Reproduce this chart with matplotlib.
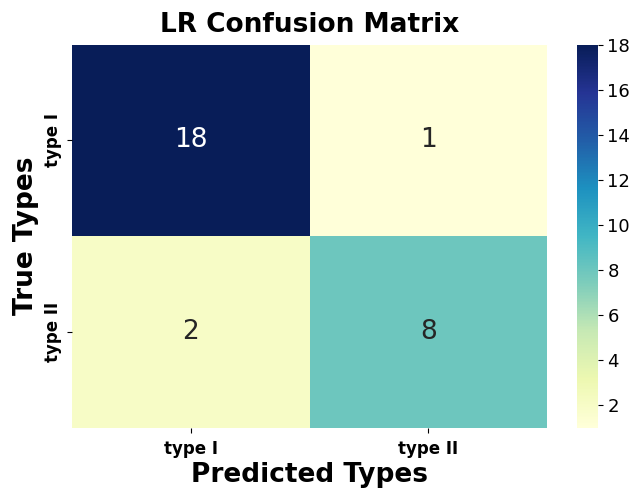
import matplotlib
matplotlib.use("Agg")
import matplotlib.pyplot as plt
import seaborn as sns
import numpy as np

labels = ["type I", "type II"]
cm = np.array([[18, 1], [2, 8]])

fig = plt.figure(figsize=(6.33, 4.9), dpi=100)
ax = fig.add_axes([0.114, 0.127, 0.75, 0.782])
cax = fig.add_axes([0.912, 0.127, 0.032, 0.782])
sns.heatmap(cm, annot=True, fmt="d", cmap="YlGnBu", vmin=1, vmax=18,
            xticklabels=labels, yticklabels=labels, ax=ax, cbar_ax=cax,
            annot_kws={"size": 19})
ax.set_title("LR Confusion Matrix", fontsize=19, fontweight="bold", pad=9)
ax.set_xlabel("Predicted Types", fontsize=19, fontweight="bold", labelpad=3)
ax.set_ylabel("True Types", fontsize=19, fontweight="bold")
for t in ax.get_xticklabels() + ax.get_yticklabels():
    t.set_fontweight("bold")
    t.set_fontsize(12)
ax.tick_params(axis="x", pad=5)
cax.tick_params(labelsize=13)
cax.set_yticks([2, 4, 6, 8, 10, 12, 14, 16, 18])
fig.savefig("out.png", dpi=100)
